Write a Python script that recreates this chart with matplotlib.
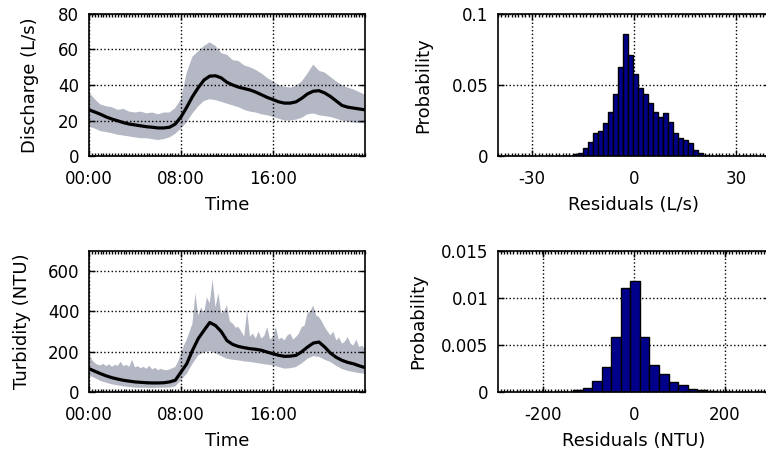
import numpy as np
import matplotlib
matplotlib.use("Agg")
import matplotlib.pyplot as plt
from matplotlib.ticker import MultipleLocator

# ---- discharge, every 30 min ----
t_q = np.arange(0, 24.01, 0.5)
q_med = [26, 24.8, 23.5, 22, 20.8, 19.8, 18.8, 18, 17.5, 17, 16.5, 16.2, 15.8, 15.8, 16.2, 18,
         22, 27.5, 33.5, 38.5, 42.8, 45, 45.2, 44, 41.5, 40, 38.8, 38, 37.2, 36, 34.5, 33,
         31.8, 30.5, 29.8, 29.8, 30.5, 32.5, 35, 36.5, 36.8, 35.5, 33.5, 31, 28.5, 27.5, 27, 26.5, 26]
q_hi = [36, 32, 29, 28, 27.5, 26, 26.5, 25, 24.5, 25, 24, 24.5, 23.5, 24.5, 24.5, 27,
        32, 47, 56, 59, 62, 64, 62, 58, 57, 54, 53.5, 51, 50, 48.5, 46.5, 44,
        42, 40, 39, 38.5, 39.5, 42, 46.5, 51.5, 48, 47, 44.5, 42, 40, 38.5, 37.5, 36, 34.5]
q_lo = [16.5, 15.5, 14, 13.5, 12.8, 12, 11.5, 11, 10.5, 10, 10, 9.5, 9, 9.5, 10.5, 12.5,
        15.5, 19, 24, 28, 31, 32, 31.5, 30.5, 29.5, 28.5, 27.5, 26, 25, 24.5, 23.5, 23,
        22, 21, 20, 20, 20.5, 21.5, 23.5, 24, 23, 22.5, 22, 21, 20, 19.5, 18.8, 18.5, 18.4]

# ---- turbidity, median/lower every 30 min, upper every 15 min ----
t_n = np.arange(0, 24.01, 0.5)
n_med = [116, 103, 91, 80, 71, 64, 58, 54, 50, 48, 46, 45, 45, 46, 50, 58,
         99, 140, 207, 265, 306, 345, 330, 300, 255, 236, 226, 220, 215, 212, 207, 198,
         190, 182, 177, 178, 182, 200, 223, 243, 248, 223, 193, 172, 157, 147, 140, 130, 121]
n_lo = [83, 70, 55, 46, 38, 33, 28, 25, 22, 21, 21, 20, 21, 21, 22, 28,
        58, 91, 140, 182, 198, 203, 193, 178, 165, 160, 157, 152, 149, 145, 140, 136,
        132, 124, 116, 118, 124, 142, 165, 178, 174, 160, 149, 130, 114, 105, 99, 94, 91]
t_n_hi = np.arange(0, 24.01, 0.25)
n_hi = [200, 160, 145, 135, 132, 140, 128, 138, 125, 135, 130, 150, 128, 135, 125, 160,
        122, 128, 118, 125, 115, 130, 112, 120, 108, 115, 110, 108, 112, 118, 124, 150,
        190, 230, 260, 300, 340, 490, 380, 420, 390, 470, 440, 560, 420, 490, 390, 400,
        430, 350, 340, 320, 322, 300, 275, 405, 275, 290, 265, 300, 265, 280, 322, 260,
        275, 322, 260, 270, 256, 280, 290, 260, 273, 290, 322, 330, 390, 400, 430, 380,
        372, 350, 322, 300, 281, 300, 256, 270, 240, 250, 273, 240, 231, 260, 223, 230, 215]

# ---- residual histograms ----
rq_start, rq_width = -17.85, 1.47
rq_prob = [0.0012, 0.002, 0.0059, 0.0096, 0.016, 0.0176, 0.023, 0.031, 0.044, 0.063, 0.0862,
           0.071, 0.0575, 0.0477, 0.0434, 0.0376, 0.0312, 0.0277, 0.030, 0.0242, 0.016,
           0.0124, 0.0113, 0.0089, 0.0042, 0.0019, 0.0007]
rn_start, rn_width = -134.7, 21.1
rn_prob = [0.00018, 0.0004, 0.0012, 0.0027, 0.0058, 0.0111, 0.0118, 0.0058, 0.0029,
           0.0019, 0.0011, 0.00078, 0.00035, 0.00018, 0.00012]

band_color = '#b4b7c4'
bar_color = '#00008a'
fs = 12
fs_lab = 13

plt.rcParams['font.family'] = 'DejaVu Sans'
plt.rcParams['font.size'] = fs
plt.rcParams['axes.unicode_minus'] = False

W, H = 766, 454
fig = plt.figure(figsize=(W / 100, H / 100), dpi=100)


def box(x0, y0, x1, y1):
    return [x0 / W, 1 - y1 / H, (x1 - x0) / W, (y1 - y0) / H]


def style(ax):
    for s in ax.spines.values():
        s.set_linewidth(1.2)
    ax.tick_params(which='major', direction='in', top=True, right=True, length=4, width=1,
                   labelsize=fs)
    ax.tick_params(axis='x', which='major', pad=10)
    ax.tick_params(axis='y', which='major', pad=7)
    ax.tick_params(which='minor', direction='in', top=True, bottom=True, left=False,
                   right=False, length=2, width=1)
    ax.grid(True, which='major', linestyle=':', color='k', linewidth=1)


def ts_panel(ax, t_mid, med, t_lo, lo, t_hi, hi, ylim, yticks, ylabel, ypad):
    xs = np.concatenate([t_hi, t_lo[::-1]])
    ys = np.concatenate([hi, np.asarray(lo)[::-1]])
    ax.fill(xs, ys, color=band_color, lw=0, zorder=1)
    ax.plot(t_mid, med, color='k', lw=2.3, zorder=2)
    ax.set_xlim(0, 24)
    ax.set_ylim(*ylim)
    ax.set_xticks([0, 8, 16])
    ax.set_xticklabels(['00:00', '08:00', '16:00'])
    ax.xaxis.set_minor_locator(MultipleLocator(0.25))
    ax.set_yticks(yticks)
    ax.set_xlabel('Time', fontsize=fs_lab, labelpad=6)
    ax.set_ylabel(ylabel, fontsize=fs_lab, labelpad=ypad)
    style(ax)
    ax.set_axisbelow(False)


def hist_panel(ax, start, width, prob, xlim, xticks, ylim, yticks, ylabels, xlabel, minor, ypad):
    centers = start + width * (np.arange(len(prob)) + 0.5)
    ax.bar(centers, prob, width=width, color=bar_color, edgecolor='k', linewidth=1, zorder=2)
    ax.set_xlim(*xlim)
    ax.set_ylim(*ylim)
    ax.set_xticks(xticks)
    ax.set_yticks(yticks)
    ax.set_yticklabels(ylabels)
    ax.xaxis.set_minor_locator(MultipleLocator(minor))
    ax.set_xlabel(xlabel, fontsize=fs_lab, labelpad=6)
    ax.set_ylabel('Probability', fontsize=fs_lab, labelpad=ypad)
    style(ax)
    ax.set_axisbelow(True)


ax1 = fig.add_axes(box(89, 14, 365, 156))
ts_panel(ax1, t_q, q_med, t_q, q_lo, t_q, q_hi, (0, 80), [0, 20, 40, 60, 80],
         'Discharge (L/s)', 14)

ax3 = fig.add_axes(box(89, 251, 365, 392))
ts_panel(ax3, t_n, n_med, t_n, n_lo, t_n_hi, n_hi, (0, 700), [0, 200, 400, 600],
         'Turbidity (NTU)', 12)

ax2 = fig.add_axes(box(498, 14, 770, 156))
hist_panel(ax2, rq_start, rq_width, rq_prob, (-40, 40), [-30, 0, 30], (0, 0.1),
           [0, 0.05, 0.1], ['0', '0.05', '0.1'], 'Residuals (L/s)', 1.0, 14)

ax4 = fig.add_axes(box(498, 251, 770, 392))
hist_panel(ax4, rn_start, rn_width, rn_prob, (-300, 300), [-200, 0, 200], (0, 0.015),
           [0, 0.005, 0.01, 0.015], ['0', '0.005', '0.01', '0.015'], 'Residuals (NTU)', 7.0, 10)

fig.savefig('out.png', dpi=100)
